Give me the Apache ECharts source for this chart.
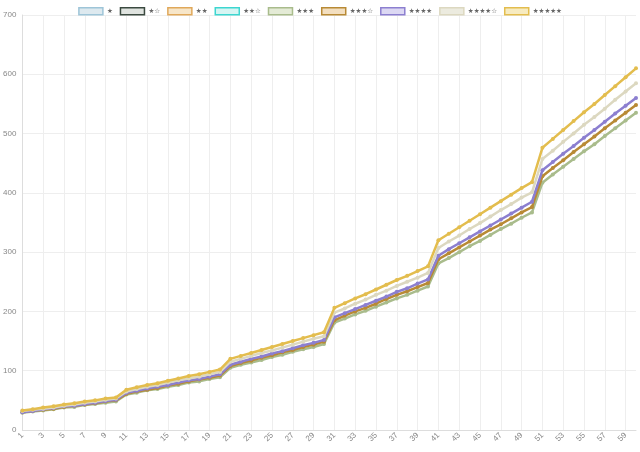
<!DOCTYPE html>
<html><head><meta charset="utf-8">
<script src="https://cdn.jsdelivr.net/npm/echarts@6/dist/echarts.min.js"></script>
<style>html,body{margin:0;padding:0;background:#fff}#c{width:640px;height:452px}</style>
</head><body><div id="c"></div>
<script>
const levels = [];
for (let i = 1; i <= 60; i++) levels.push(String(i));

const seriesNames = ['★','★☆','★★','★★☆','★★★','★★★☆','★★★★','★★★★☆','★★★★★'];

const s1 = [];
const s1h = [];
const s2 = [];
const s2h = [];
const s3 = [29,31,33,35,38,39,42,44,46,48, 60,63,67,69,73,76,80,82,86,89, 105,110,114,118,123,127,132,136,140,145, 181,188,195,201,208,215,222,228,235,242, 281,290,300,310,319,329,339,348,358,367, 417,431,444,457,470,482,496,509,522,535];
const s3h = [30,32,34,36,39,41,43,45,48,50, 61,65,68,71,75,78,82,85,88,92, 108,113,117,122,126,131,135,140,144,149, 185,193,200,206,213,221,228,234,241,248, 288,298,308,318,328,338,347,357,367,376, 428,442,455,469,482,495,509,522,535,548];
const s4 = [30,32,35,37,40,41,44,46,49,51, 63,66,70,73,76,80,84,86,90,94, 110,115,120,124,129,133,138,143,147,152, 190,197,204,211,218,225,233,239,247,254, 294,305,315,325,335,345,355,365,375,385, 438,452,466,479,493,506,520,534,547,560];
const s4h = [32,34,36,38,41,43,46,48,51,53, 65,69,73,76,80,84,87,90,94,98, 115,120,125,130,134,139,144,149,154,158, 198,205,213,220,228,235,243,250,257,265, 307,318,328,339,349,360,371,381,392,401, 457,471,486,500,515,528,542,557,571,585];
const s5 = [33,35,38,40,43,45,48,50,53,55, 68,72,76,79,83,87,91,94,98,102, 120,125,130,135,140,145,150,155,160,165, 206,214,222,229,237,245,253,260,268,276, 320,331,342,353,364,375,386,397,408,418, 476,491,506,521,536,550,565,580,595,610];

const yTicks = [0,100,200,300,400,500,600,700];

const dataSets = [s1, s1h, s2, s2h, s3, s3h, s4, s4h, s5];
const lineColors = ['#9ec5d8','#3b4a40','#e0a85a','#3dd6d0','#a9bc8c','#b88a35','#8c7fd0','#dcd8c0','#e3bd4e'];
const fillColors = ['#dde9ef','#dfe3df','#f7e6c9','#d6f5f3','#e4ebd6','#f3dfc0','#dcd8f3','#ecebdf','#f7ebc0'];

const chart = echarts.init(document.getElementById('c'), null, {renderer:'canvas'});
chart.setOption({
  animation: false,
  backgroundColor: '#fff',
  legend: {
    top: 2, left: 'center',
    itemWidth: 24, itemHeight: 7, itemGap: 7,
    icon: 'rect',
    textStyle: {fontSize: 6.5, color: '#666', fontFamily: 'DejaVu Sans', padding: [0,0,0,-1]},
    data: seriesNames.map((n, i) => ({name: n, itemStyle: {color: fillColors[i], borderColor: lineColors[i], borderWidth: 1.5}}))
  },
  grid: {left: 22, right: 4, top: 15, bottom: 22},
  xAxis: {
    type: 'category', data: levels, boundaryGap: false,
    axisLine: {lineStyle: {color: '#ddd'}},
    axisTick: {show: false},
    axisLabel: {interval: 1, rotate: 45, fontSize: 8, color: '#888', margin: 4},
    splitLine: {show: true, interval: 1, lineStyle: {color: '#eee'}}
  },
  yAxis: {
    type: 'value', min: 0, max: 700, interval: 100,
    axisLine: {show: true, lineStyle: {color: '#ddd'}},
    axisTick: {show: false},
    axisLabel: {fontSize: 8, color: '#888', margin: 6,
      formatter: v => yTicks.includes(v) ? String(v) : ''},
    splitLine: {lineStyle: {color: '#eee'}}
  },
  series: seriesNames.map((n, i) => ({
    name: n, type: 'line', data: dataSets[i],
    symbol: 'circle', symbolSize: 4, showSymbol: true,
    lineStyle: {width: 2.5, color: lineColors[i]},
    itemStyle: {color: lineColors[i]},
    z: 2 + i
  }))
});
</script></body></html>
